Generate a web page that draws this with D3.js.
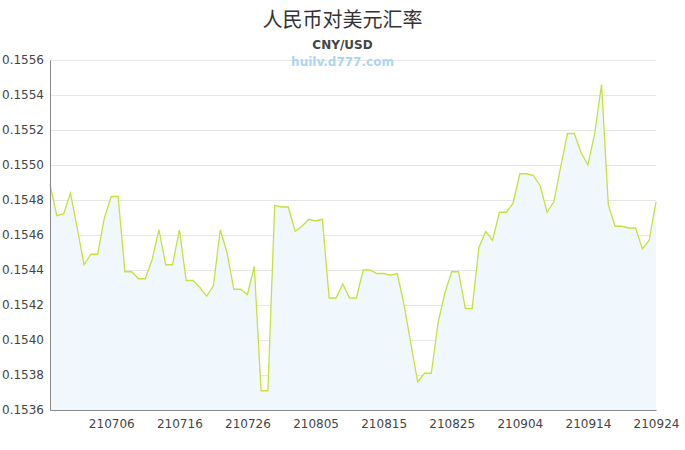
<!DOCTYPE html>
<html>
<head>
<meta charset="utf-8">
<script src="https://cdn.jsdelivr.net/npm/d3@7"></script>
<style>
    body { margin: 0; background: #fff; }
    #chart text { font-family: "DejaVu Sans", sans-serif; }
    .grid line { stroke: #e6e6e6; }
    .grid path { display: none; }
    .axis text { fill: #444; font-size: 12px; }
</style>
</head>
<body>
<div id="chart"></div>
<script>
const Title = "人民币对美元汇率";
const Subtitle = "CNY/USD";
const Watermark = "huilv.d777.com";

const Dates = [
    "210627", "210628", "210629", "210630",
    "210701", "210702", "210703", "210704", "210705", "210706", "210707", "210708", "210709", "210710",
    "210711", "210712", "210713", "210714", "210715", "210716", "210717", "210718", "210719", "210720",
    "210721", "210722", "210723", "210724", "210725", "210726", "210727", "210728", "210729", "210730", "210731",
    "210801", "210802", "210803", "210804", "210805", "210806", "210807", "210808", "210809", "210810",
    "210811", "210812", "210813", "210814", "210815", "210816", "210817", "210818", "210819", "210820",
    "210821", "210822", "210823", "210824", "210825", "210826", "210827", "210828", "210829", "210830", "210831",
    "210901", "210902", "210903", "210904", "210905", "210906", "210907", "210908", "210909", "210910",
    "210911", "210912", "210913", "210914", "210915", "210916", "210917", "210918", "210919", "210920",
    "210921", "210922", "210923", "210924",
];

const Rates = [
    0.15489, 0.15471, 0.15472, 0.15484, 0.15464, 0.15443, 0.15449, 0.15449, 0.15470, 0.15482,
    0.15482, 0.15439, 0.15439, 0.15435, 0.15435, 0.15446, 0.15463, 0.15443, 0.15443, 0.15463,
    0.15434, 0.15434, 0.15430, 0.15425, 0.15431, 0.15463, 0.15450, 0.15429, 0.15429, 0.15426,
    0.15442, 0.15371, 0.15371, 0.15477, 0.15476, 0.15476, 0.15462, 0.15465, 0.15469, 0.15468,
    0.15469, 0.15424, 0.15424, 0.15432, 0.15424, 0.15424, 0.15440, 0.15440, 0.15438, 0.15438,
    0.15437, 0.15438, 0.15420, 0.15398, 0.15376, 0.15381, 0.15381, 0.15410, 0.15427, 0.15439,
    0.15439, 0.15418, 0.15418, 0.15453, 0.15462, 0.15457, 0.15473, 0.15473, 0.15478, 0.15495,
    0.15495, 0.15494, 0.15488, 0.15473, 0.15479, 0.15499, 0.15518, 0.15518, 0.15507, 0.15500,
    0.15518, 0.15546, 0.15477, 0.15465, 0.15465, 0.15464, 0.15464, 0.15452, 0.15457, 0.15479,
];

const YTicks = [0.1536, 0.1538, 0.1540, 0.1542, 0.1544, 0.1546, 0.1548, 0.1550, 0.1552, 0.1554, 0.1556];
const XTicks = ["210706", "210716", "210726", "210805", "210815", "210825", "210904", "210914", "210924"];

function createRateChart() {
    let width = 685;
    let height = 450;
    let margin = { top: 60, right: 29, bottom: 40, left: 50 };

    let svg = d3.select("#chart").append("svg")
        .attr("width", width)
        .attr("height", height);

    let x = d3.scalePoint()
        .domain(Dates)
        .range([margin.left, width - margin.right]);

    let y = d3.scaleLinear()
        .domain([0.1536, 0.1556])
        .range([height - margin.bottom, margin.top]);

    // horizontal grid
    svg.append("g")
        .attr("class", "grid")
        .attr("transform", `translate(${margin.left},0)`)
        .call(d3.axisLeft(y)
            .tickValues(YTicks)
            .tickSize(-(width - margin.left - margin.right))
            .tickFormat(""));

    let data = Dates.map((d, i) => ({ date: d, rate: Rates[i] }));

    let area = d3.area()
        .x(d => x(d.date))
        .y0(y(0.1536))
        .y1(d => y(d.rate));

    let line = d3.line()
        .x(d => x(d.date))
        .y(d => y(d.rate));

    svg.append("path")
        .datum(data)
        .attr("fill", "#f1f8fd")
        .attr("d", area);

    svg.append("path")
        .datum(data)
        .attr("fill", "none")
        .attr("stroke", "#c6e03f")
        .attr("stroke-width", 1.3)
        .attr("d", line);

    // axes
    let yAxis = svg.append("g")
        .attr("class", "axis")
        .attr("transform", `translate(${margin.left},0)`)
        .call(d3.axisLeft(y)
            .tickValues(YTicks)
            .tickSize(0)
            .tickPadding(6)
            .tickFormat(d3.format(".4f")));
    yAxis.select(".domain").attr("stroke", "#888");

    let xAxis = svg.append("g")
        .attr("class", "axis")
        .attr("transform", `translate(0,${height - margin.bottom})`)
        .call(d3.axisBottom(x)
            .tickValues(XTicks)
            .tickSize(0)
            .tickPadding(9));
    xAxis.select(".domain").attr("stroke", "#888");
    xAxis.selectAll("text").attr("fill", "#555");

    // titles
    svg.append("text")
        .attr("x", width / 2)
        .attr("y", 27)
        .attr("text-anchor", "middle")
        .style("font-family", "'Noto Sans CJK SC', sans-serif")
        .style("font-size", "20px")
        .attr("fill", "#333")
        .text(Title);

    svg.append("text")
        .attr("x", width / 2)
        .attr("y", 49)
        .attr("text-anchor", "middle")
        .style("font-size", "12px")
        .style("font-weight", "bold")
        .attr("fill", "#444")
        .text(Subtitle);

    svg.append("text")
        .attr("x", width / 2)
        .attr("y", 66)
        .attr("text-anchor", "middle")
        .style("font-size", "12px")
        .style("font-weight", "bold")
        .attr("fill", "#acd6ee")
        .text(Watermark);
}

createRateChart();
</script>
</body>
</html>
